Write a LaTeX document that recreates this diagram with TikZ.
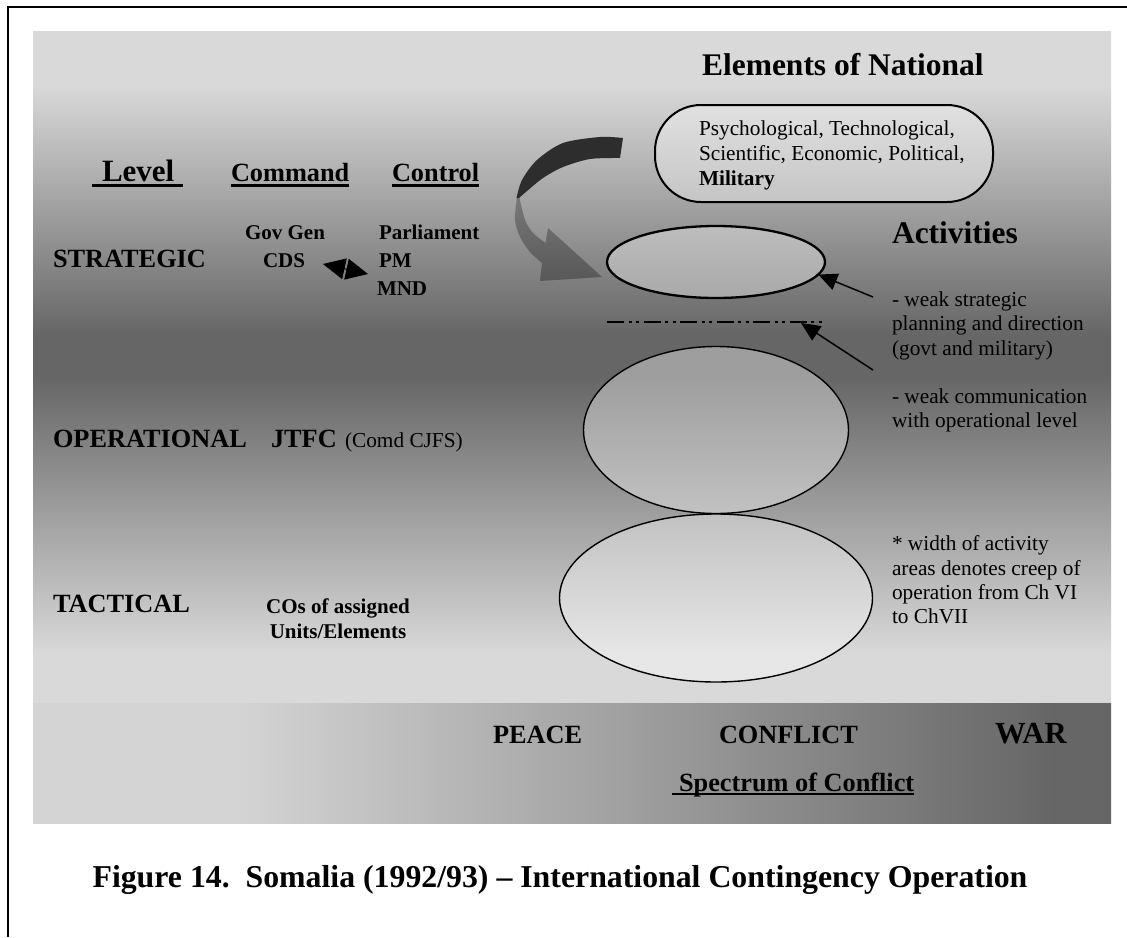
\documentclass[tikz,border=0pt]{standalone}
\usepackage{fontspec}
\setmainfont{Liberation Serif}
\usetikzlibrary{arrows.meta,shapes.geometric}
\definecolor{bgL}{HTML}{D9D9D9}
\definecolor{bgL2}{HTML}{D4D4D4}
\definecolor{bgD}{HTML}{666666}
\definecolor{arrDark}{HTML}{2D2D2D}
\definecolor{arrMid}{HTML}{787878}
\definecolor{arrLow}{HTML}{585858}
\pgfdeclareverticalshading{panelshade}{100bp}{color(0bp)=(bgL); color(28.57bp)=(bgL); color(49.33bp)=(bgD); color(52.38bp)=(bgD); color(70.98bp)=(bgL); color(100bp)=(bgL)}
\pgfdeclarehorizontalshading{barshade}{100bp}{color(0bp)=(bgL2); color(34.4bp)=(bgL2); color(72.4bp)=(bgD); color(100bp)=(bgD)}
\begin{document}
\begin{tikzpicture}[x=1pt,y=-1pt,
  lbl/.style={inner sep=0pt, outer sep=0pt, anchor=base west},
  bigb/.style={lbl, font=\fontsize{31.5}{36}\selectfont\bfseries},
  medb/.style={lbl, font=\fontsize{26.3}{30}\selectfont\bfseries},
  smb/.style={lbl, font=\fontsize{21}{25}\selectfont\bfseries},
  smr/.style={lbl, font=\fontsize{21.3}{24.5}\selectfont},
  area/.style={draw=black, fill=white, fill opacity=0.37, ellipse, inner sep=0pt, outer sep=0pt},
  ptr/.style={line width=1.5pt, -{Triangle[length=19pt,width=17pt]}},
  uline/.style={line width=2.5pt}
]
\useasboundingbox (0,0) rectangle (1127,937);
\fill[white] (0,0) rectangle (1127,937);

% main panel with vertical gradient (light - dark - light)
\shade[shading=panelshade] (33,31) rectangle (1111,703);

% bottom bar with horizontal gradient
\shade[shading=barshade] (33,703) rectangle (1111,823);

% outer frame
\draw[line width=2pt] (1127,7) -- (8,7) -- (8,937);

% elements box
\node[draw=black, line width=2pt, fill=white, fill opacity=0.37, text opacity=1,
      rounded corners=46pt, minimum width=338pt, minimum height=97pt, inner sep=0pt]
      (elem) at (824,153.5) {};
\node[smr] (el1) at (699,135) {Psychological, Technological,};
\node[smr] (el2) at (699,160) {Scientific, Economic, Political,};
\node[smr, font=\fontsize{21.3}{24.5}\selectfont\bfseries] (el3) at (699,185) {Military};

% activity ellipses
\node[area, line width=2.3pt, minimum width=218pt, minimum height=72pt] (e1) at (716,262) {};
\node[area, line width=1.4pt, minimum width=265pt, minimum height=167pt] (e2) at (716,430) {};
\node[area, line width=1.4pt, minimum width=313pt, minimum height=168pt] (e3) at (716,598) {};

% dash-dot line
\coordinate (dl1) at (607,322);
\coordinate (dl2) at (822,322);
\coordinate (dtip) at (801,323);
\draw[line width=2pt, dash pattern=on 17pt off 4.5pt on 3pt off 4.5pt on 3pt off 4.5pt] (dl1) -- (dl2);

% curved block arrow
\shade[top color=arrMid,bottom color=arrLow]
  plot[smooth] coordinates {(517,197) (515,220) (520,237) (530,252) (542,263)}
  -- (540,281) -- (602,277) -- (548,228) -- (545.5,243)
  -- plot[smooth] coordinates {(545.5,243) (533,233) (525,220) (519.5,198)} -- cycle;
\fill[arrDark]
  plot[smooth] coordinates {(623,138) (600,137) (563,143) (537,160) (522,180) (516.5,198)}
  -- plot[smooth] coordinates {(519,198) (527,191) (543,178) (563,167) (590,159) (620,158)} -- cycle;

% headings
\node[bigb] (title) at (702,75) {Elements of National};
\node[bigb] (act) at (892,243) {Activities};
\node[lbl, font=\fontsize{31}{36}\selectfont\bfseries] (lev) at (102,181) {Level};
\node[medb] (cmd) at (231,181) {Command};
\node[medb] (ctl) at (392,181) {Control};
\draw[uline] ([xshift=-10pt,yshift=-4.5pt]lev.base west) -- ([xshift=9pt,yshift=-4.5pt]lev.base east);
\draw[uline] ([yshift=-4.5pt]cmd.base west) -- ([yshift=-4.5pt]cmd.base east);
\draw[uline] ([yshift=-4.5pt]ctl.base west) -- ([yshift=-4.5pt]ctl.base east);

% levels
\node[medb] (strat) at (53,267) {STRATEGIC};
\node[medb] (oper) at (53,447) {OPERATIONAL};
\node[medb] (tact) at (53,612) {TACTICAL};

\node[smb] (gg) at (245,239) {Gov Gen};
\node[smb] (cds) at (263,267) {CDS};
\node[smb] (parl) at (379,239) {Parliament};
\node[smb] (pm) at (379,267) {PM};
\node[smb] (mnd) at (377,295) {MND};
\coordinate (da1) at (323,264);
\coordinate (da2) at (368,274);
\draw[line width=1pt, {Triangle[length=22pt,width=21pt]}-{Triangle[length=22pt,width=21pt]}] (da1) -- (da2);

\node[medb] (jtfc) at (271,447) {JTFC};
\node[smr] (cjfs) at (345,447) {(Comd CJFS)};
\node[smb, anchor=base] (cos1) at (338,613) {COs of assigned};
\node[smb, anchor=base] (cos2) at (338,638) {Units/Elements};

% right column notes
\node[smr] (n1a) at (892,306) {- weak strategic};
\node[smr] (n1b) at (892,330) {planning and direction};
\node[smr] (n1c) at (892,355) {(govt and military)};
\node[smr] (n2a) at (892,403) {- weak communication};
\node[smr] (n2b) at (892,427) {with operational level};
\node[smr] (n3a) at (892,550) {* width of activity};
\node[smr] (n3b) at (892,575) {areas denotes creep of};
\node[smr] (n3c) at (892,599) {operation from Ch VI};
\node[smr] (n3d) at (892,623) {to ChVII};

\coordinate (t1) at (873,297);
\coordinate (t2) at (873,370);
\draw[ptr] (t1) -- (e1.-7);
\draw[ptr] (t2) -- (dtip);

% spectrum
\node[medb] (peace) at (493,743) {PEACE};
\node[medb] (confl) at (719,743) {CONFLICT};
\node[lbl, font=\fontsize{30.7}{35}\selectfont\bfseries] (war) at (995,743) {WAR};
\node[medb] (spec) at (679,791) {Spectrum of Conflict};
\draw[uline] ([xshift=-7pt,yshift=-3pt]spec.base west) -- ([yshift=-3pt]spec.base east);

% caption
\node[lbl, anchor=base, font=\fontsize{31.8}{36}\selectfont\bfseries] (cap) at (560,887)
  {Figure 14.\ \ Somalia (1992/93) – International Contingency Operation};
\end{tikzpicture}
\end{document}
